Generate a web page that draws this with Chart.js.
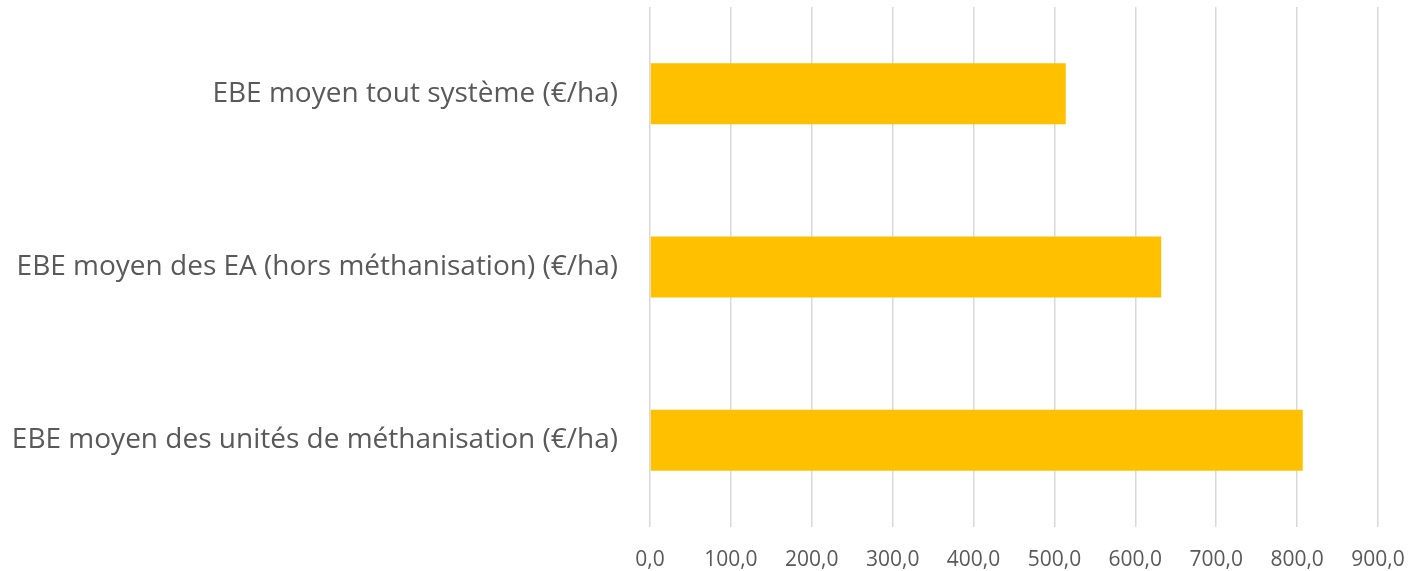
<!DOCTYPE html>
<html>
<head>
<meta charset="utf-8">
<script src="https://cdn.jsdelivr.net/npm/chart.js@4"></script>
<style>
  html, body { margin: 0; padding: 0; background: #fff; }
  #wrap { width: 1409px; height: 571px; }
</style>
</head>
<body>
<div id="wrap"><canvas id="ebeChart" width="1409" height="571"></canvas></div>
<script>
const categories = [
    'EBE moyen tout système (€/ha)',
    'EBE moyen des EA (hors méthanisation) (€/ha)',
    'EBE moyen des unités de méthanisation (€/ha)'
];
const ebeValues = [514, 632, 807];
const xTicks = [0, 100, 200, 300, 400, 500, 600, 700, 800, 900];

const textColor = '#595959';
const fontFamily = '"Open Sans", "Liberation Sans", sans-serif';

new Chart(document.getElementById('ebeChart'), {
    type: 'bar',
    data: {
        labels: categories,
        datasets: [{
            data: ebeValues,
            backgroundColor: '#FFC000',
            borderWidth: 0,
            categoryPercentage: 1,
            barPercentage: 0.352
        }]
    },
    options: {
        indexAxis: 'y',
        responsive: false,
        animation: false,
        layout: { padding: { top: 7, right: 31, left: 0, bottom: 0 } },
        plugins: {
            legend: { display: false },
            tooltip: { enabled: false }
        },
        scales: {
            x: {
                min: xTicks[0],
                max: xTicks[xTicks.length - 1],
                afterBuildTicks: scale => {
                    scale.ticks = xTicks.map(v => ({ value: v }));
                },
                afterFit: scale => {
                    scale.height = 44;
                    scale.paddingLeft = 0;
                    scale.paddingRight = 0;
                },
                border: { display: false },
                grid: { color: '#D9D9D9', lineWidth: 1.5, drawTicks: false },
                ticks: {
                    padding: 20,
                    color: textColor,
                    font: { family: fontFamily, size: 21 },
                    maxRotation: 0,
                    callback: v => v.toFixed(1).replace('.', ',')
                }
            },
            y: {
                afterFit: scale => {
                    scale.width = 650;
                    scale.paddingTop = 0;
                    scale.paddingBottom = 0;
                },
                border: { display: false },
                grid: { display: false, drawTicks: false },
                ticks: {
                    padding: 32,
                    color: textColor,
                    font: { family: fontFamily, size: 28 }
                }
            }
        }
    }
});
</script>
</body>
</html>
